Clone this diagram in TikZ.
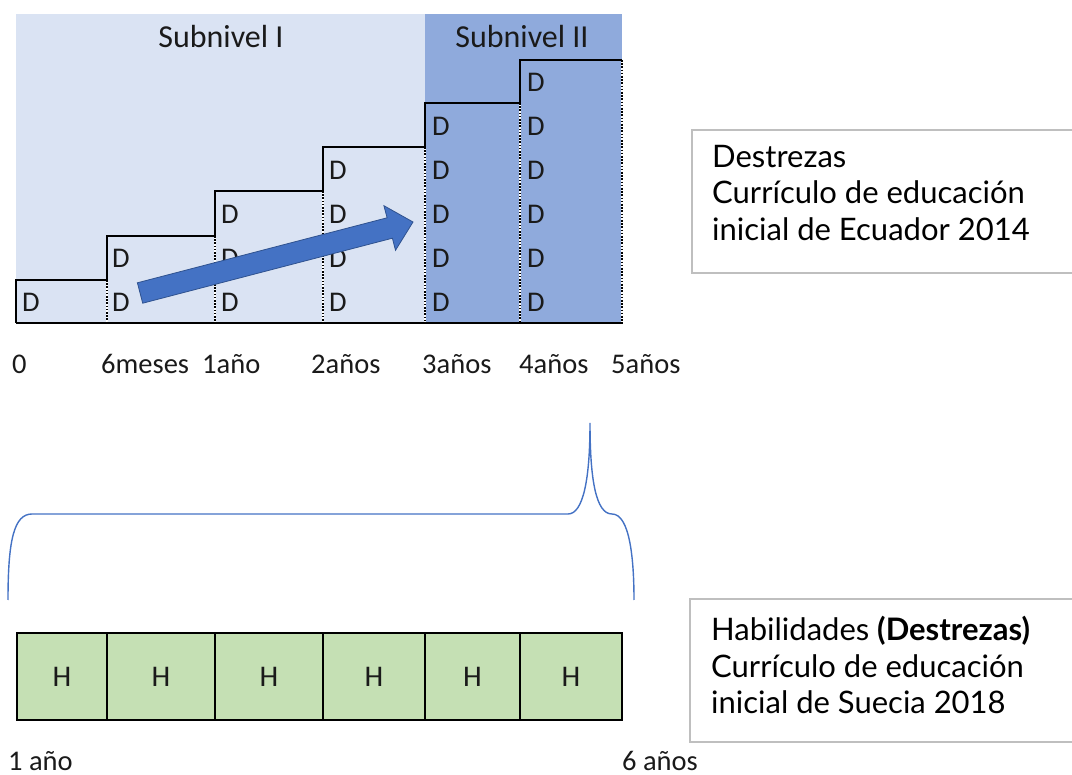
\documentclass[tikz,border=0pt]{standalone}
\usepackage{fontspec}
\setmainfont{Carlito}
\newfontfamily\boxfont{Lato}
\definecolor{lightbg}{HTML}{DAE3F3}
\definecolor{darkbg}{HTML}{8FAADC}
\definecolor{arrowfill}{HTML}{4472C4}
\definecolor{arrowline}{HTML}{2F528F}
\definecolor{cellgreen}{HTML}{C5E0B4}
\definecolor{boxgray}{HTML}{BFBFBF}
\definecolor{txt}{HTML}{1A1A1A}
\tikzset{
  dlabel/.style={anchor=base west, inner sep=0pt, font=\fontsize{28.5}{28.5}\selectfont, text=txt},
  ticklabel/.style={anchor=base west, inner sep=0pt, font=\fontsize{28.5}{28.5}\selectfont, text=txt},
  levellabel/.style={anchor=base, inner sep=0pt, font=\fontsize{32}{32}\selectfont, text=txt},
  stair/.style={draw=black, line width=1.3pt},
  sep/.style={draw=black, line width=1.3pt, dash pattern=on 1.6pt off 1.6pt},
  sepbg/.style={draw=white, line width=1.3pt},
  hcell/.style={draw=black, line width=1.2pt, fill=cellgreen, minimum height=87pt, inner sep=0pt, font=\fontsize{30}{30}\selectfont, text=txt},
  infobox/.style={draw=boxgray, line width=1.2pt, fill=white},
  infotext/.style={anchor=base west, inner sep=0pt, font=\boxfont\fontsize{31}{31}\selectfont, text=black},
  brace/.style={draw=arrowfill, line width=1.4pt},
}
\begin{document}
\begin{tikzpicture}[x=1pt,y=-1pt]
\useasboundingbox (0,0) rectangle (1072,775);
% backgrounds
\fill[lightbg] (16,14) rectangle (425,323);
\fill[darkbg] (425,14) rectangle (622,323);
\node[levellabel] (s1) at (221,48) {Subnivel I};
\node[levellabel] (s2) at (522,48) {Subnivel II};
% separators (dotted)
\foreach \x/\t in {107/280,215/236,323/191,425/147,520/103,622/60}{
  \draw[sepbg] (\x,\t) -- (\x,323);
  \draw[sep] (\x,\t) -- (\x,323);
}
% staircase outline
\draw[stair] (16,323) -- (16,280) -- (107,280) -- (107,236) -- (215,236) -- (215,191) -- (323,191) -- (323,147) -- (425,147) -- (425,103) -- (520,103) -- (520,60) -- (622,60);
\draw[stair] (16,323) -- (623,323);
% D labels
\foreach \c/\x in {0/22,1/112,2/221,3/329,4/432,5/527}{
  \foreach \r in {0,...,\c}{
    \node[dlabel] (d-\c-\r) at (\x,{312-44*\r}) {D};
  }
}
% block arrow
\filldraw[fill=arrowfill, draw=arrowline, line width=0.8pt]
  (137.4,282.8) -- (387.1,217.8) -- (383.9,205.7) -- (413,222) -- (395.5,250.3) -- (392.4,238.2) -- (142.7,303.2) -- cycle;
% ticks
\node[ticklabel] (t0) at (12,374) {0};
\node[ticklabel] (t1) at (101,374) {6meses};
\node[ticklabel] (t2) at (202,374) {1año};
\node[ticklabel] (t3) at (311,374) {2años};
\node[ticklabel] (t4) at (422,374) {3años};
\node[ticklabel] (t5) at (519,374) {4años};
\node[ticklabel] (t6) at (611,374) {5años};
% info box 1
\draw[infobox] (692,130) rectangle (1072.6,273);
\node[infotext] (info1a) at (712,168) {Destrezas};
\node[infotext] (info1b) at (712,204) {Currículo de educación};
\node[infotext] (info1c) at (712,241) {inicial de Ecuador 2014};
% brace
\draw[brace] (8,600) .. controls (8,540) and (14,514) .. (32,514) -- (568,514)
  .. controls (583,514) and (590,480) .. (590,423)
  .. controls (590,480) and (596,514) .. (612,514)
  .. controls (630,514) and (634,560) .. (634,600);
% H cells
\foreach \i/\a/\b in {1/17/107,2/107/215,3/215/323,4/323/425,5/425/520,6/520/622}{
  \node[hcell, minimum width={\b-\a}] (h\i) at ({(\a+\b)/2},676.5) {H};
}
\node[ticklabel] (b0) at (8,770) {1 año};
\node[ticklabel] (b1) at (622,770) {6 años};
% info box 2
\draw[infobox] (690,599) rectangle (1072.6,742);
\node[infotext] (info2a) at (711,641) {Habilidades \textbf{(Destrezas)}};
\node[infotext] (info2b) at (711,677) {Currículo de educación};
\node[infotext] (info2c) at (711,713) {inicial de Suecia 2018};
\end{tikzpicture}
\end{document}
